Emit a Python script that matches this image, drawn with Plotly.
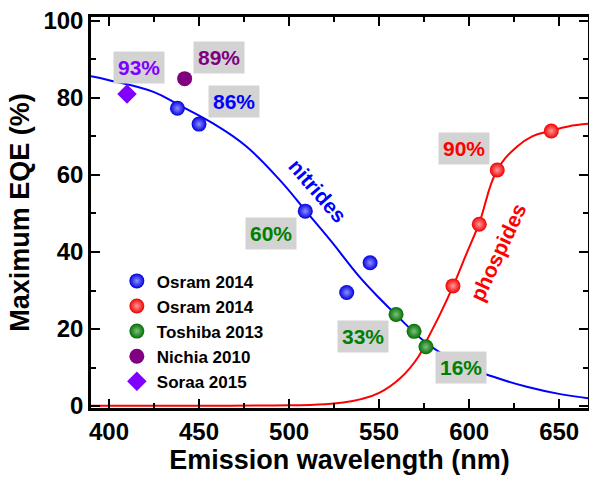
import plotly.graph_objects as go

# ---------------- data ----------------
osram_n_wl = [438, 450, 509, 532, 545]
osram_n_eqe = [77.3, 73.2, 50.6, 29.5, 37.2]

osram_p_wl = [591, 605.6, 615.6, 645.6]
osram_p_eqe = [31.2, 47.2, 61.3, 71.4]

toshiba_wl = [559.4, 569.4, 576]
toshiba_eqe = [23.8, 19.4, 15.4]

nichia_wl = [442]
nichia_eqe = [85]

soraa_wl = [410]
soraa_eqe = [81]

# fitted trend curves
nitride_fit_wl = [390, 400, 425, 439, 458, 476, 495, 509, 523, 539, 551, 559, 576.5, 595, 613.5, 632, 650.6, 667]
nitride_fit_eqe = [85.6, 84.6, 81.5, 78.1, 73.3, 67.5, 58.6, 50.8, 43.0, 33.6, 27.6, 23.9, 16.3, 10.9, 7.6, 5.0, 3.1, 2.0]

phosphide_fit_wl = [390, 450, 500, 520, 530, 540, 550, 561.7, 571.8, 576.5, 584, 591.3, 598.3, 605.4, 615.5, 626.5, 635, 645, 655, 667]
phosphide_fit_eqe = [0.1, 0.1, 0.2, 0.5, 0.9, 1.8, 3.4, 7.2, 12.8, 17.1, 24.0, 31.4, 39.3, 47.3, 61.2, 67.3, 70.0, 71.4, 72.6, 73.3]

# percentage labels
label_texts = ["93%", "89%", "86%", "60%", "33%", "16%", "90%"]
label_wl = [416.4, 461.1, 469.4, 490, 540.8, 595.3, 597.2]
label_eqe = [87.9, 90.4, 79.1, 44.9, 18.0, 9.9, 66.9]
label_colors = ["#8000ff", "#800080", "#0000ff", "#008000", "#008000", "#008000", "#ff0000"]

FONT = "Liberation Sans, Arial, sans-serif"

fig = go.Figure()

fig.add_trace(go.Scatter(x=nitride_fit_wl, y=nitride_fit_eqe, mode="lines",
                         line=dict(color="#0000ff", width=2, shape="spline", smoothing=1.2),
                         showlegend=False, hoverinfo="skip"))
fig.add_trace(go.Scatter(x=phosphide_fit_wl, y=phosphide_fit_eqe, mode="lines",
                         line=dict(color="#ff0000", width=2, shape="spline", smoothing=1.2),
                         showlegend=False, hoverinfo="skip"))

def ball(color, light):
    return dict(size=15, color=color, symbol="circle",
                gradient=dict(type="radial", color=light),
                line=dict(width=0))

fig.add_trace(go.Scatter(x=osram_n_wl, y=osram_n_eqe, mode="markers", name="Osram 2014",
                         marker=ball("#0000e0", "#8f8fff")))
fig.add_trace(go.Scatter(x=osram_p_wl, y=osram_p_eqe, mode="markers", name="Osram 2014",
                         marker=ball("#f00000", "#ff9a9a")))
fig.add_trace(go.Scatter(x=toshiba_wl, y=toshiba_eqe, mode="markers", name="Toshiba 2013",
                         marker=ball("#007000", "#7fbf7f")))
fig.add_trace(go.Scatter(x=nichia_wl, y=nichia_eqe, mode="markers", name="Nichia 2010",
                         marker=dict(size=15, color="#800080", symbol="circle", line=dict(width=0))))
fig.add_trace(go.Scatter(x=soraa_wl, y=soraa_eqe, mode="markers", name="Soraa 2015",
                         marker=dict(size=15, color="#8000ff", symbol="diamond", line=dict(width=0))))

annotations = []
for t, xv, yv, c in zip(label_texts, label_wl, label_eqe, label_colors):
    annotations.append(dict(x=xv, y=yv, xref="x", yref="y", text=t, showarrow=False,
                            font=dict(family=FONT, size=21, color=c, weight="bold"),
                            bgcolor="#d3d3d3", borderpad=4, xanchor="center", yanchor="middle"))

annotations.append(dict(x=515.8, y=56, xref="x", yref="y", text="nitrides", showarrow=False,
                        textangle=49, font=dict(family=FONT, size=21, color="#0000ff", weight="bold")))
annotations.append(dict(x=616.1, y=39.8, xref="x", yref="y", text="phospides", showarrow=False,
                        textangle=-65, font=dict(family=FONT, size=21, color="#ff0000", weight="bold")))

axis_common = dict(showline=True, linecolor="black", linewidth=2.5, mirror="ticks",
                   ticks="inside", ticklen=9, tickwidth=2, tickcolor="black",
                   showgrid=False, zeroline=False, automargin=False,
                   tickfont=dict(family=FONT, size=24, color="black", weight="bold"))

fig.update_layout(
    width=589, height=481,
    margin=dict(l=91, r=1, t=17, b=73),
    paper_bgcolor="white", plot_bgcolor="white",
    font=dict(family=FONT, color="black"),
    xaxis=dict(range=[390, 666], tickvals=[400, 450, 500, 550, 600, 650],
               minor=dict(ticks="inside", ticklen=5, tickwidth=2, tickcolor="black", dtick=25, tick0=0),
               title=dict(text="Emission wavelength (nm)", standoff=4,
                          font=dict(family=FONT, size=27, color="black", weight="bold")),
               **axis_common),
    yaxis=dict(range=[-0.5, 101], tickvals=[0, 20, 40, 60, 80, 100],
               minor=dict(ticks="inside", ticklen=5, tickwidth=2, tickcolor="black", dtick=10, tick0=0),
               title=dict(text="Maximum EQE (%)", standoff=6,
                          font=dict(family=FONT, size=27, color="black", weight="bold")),
               **axis_common),
    legend=dict(x=0.052, y=0.37, xanchor="left", yanchor="top",
                bgcolor="rgba(0,0,0,0)", borderwidth=0, tracegroupgap=0,
                font=dict(family=FONT, size=17, color="black", weight="bold")),
    annotations=annotations,
    showlegend=True,
)

fig.write_html("out.html", config={"displayModeBar": False},
               post_script="document.body.style.margin='0';")
